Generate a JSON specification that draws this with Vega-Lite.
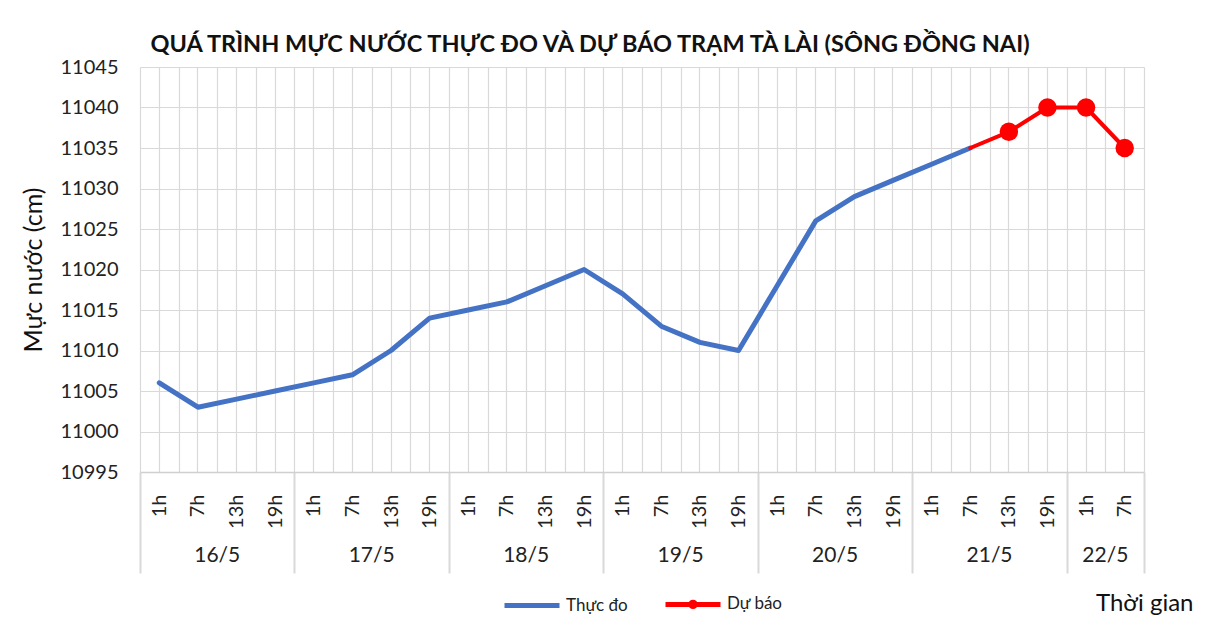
{
  "$schema": "https://vega.github.io/schema/vega-lite/v6.json",
  "width": 1004,
  "height": 405,
  "autosize": {"type": "none"},
  "padding": {"left": 140, "top": 67, "right": 71, "bottom": 154},
  "background": "white",
  "config": {"view": {"stroke": null}, "font": "Lato"},
  "title": {
    "text": "QUÁ TRÌNH MỰC NƯỚC THỰC ĐO VÀ DỰ BÁO TRẠM TÀ LÀI (SÔNG ĐỒNG NAI)",
    "fontSize": 23.5,
    "fontWeight": "bold",
    "font": "Lato",
    "color": "#111111",
    "anchor": "middle",
    "dx": -52,
    "offset": 1
  },
  "data": {
    "values": [
      {"time": "16/5 1h", "series": "Thực đo", "value": 11006},
      {"time": "16/5 7h", "series": "Thực đo", "value": 11003},
      {"time": "16/5 13h", "series": "Thực đo", "value": 11004},
      {"time": "16/5 19h", "series": "Thực đo", "value": 11005},
      {"time": "17/5 1h", "series": "Thực đo", "value": 11006},
      {"time": "17/5 7h", "series": "Thực đo", "value": 11007},
      {"time": "17/5 13h", "series": "Thực đo", "value": 11010},
      {"time": "17/5 19h", "series": "Thực đo", "value": 11014},
      {"time": "18/5 1h", "series": "Thực đo", "value": 11015},
      {"time": "18/5 7h", "series": "Thực đo", "value": 11016},
      {"time": "18/5 13h", "series": "Thực đo", "value": 11018},
      {"time": "18/5 19h", "series": "Thực đo", "value": 11020},
      {"time": "19/5 1h", "series": "Thực đo", "value": 11017},
      {"time": "19/5 7h", "series": "Thực đo", "value": 11013},
      {"time": "19/5 13h", "series": "Thực đo", "value": 11011},
      {"time": "19/5 19h", "series": "Thực đo", "value": 11010},
      {"time": "20/5 1h", "series": "Thực đo", "value": 11018},
      {"time": "20/5 7h", "series": "Thực đo", "value": 11026},
      {"time": "20/5 13h", "series": "Thực đo", "value": 11029},
      {"time": "20/5 19h", "series": "Thực đo", "value": 11031},
      {"time": "21/5 1h", "series": "Thực đo", "value": 11033},
      {"time": "21/5 7h", "series": "Thực đo", "value": 11035},
      {"time": "21/5 7h", "series": "Dự báo", "value": 11035},
      {"time": "21/5 13h", "series": "Dự báo", "value": 11037},
      {"time": "21/5 19h", "series": "Dự báo", "value": 11040},
      {"time": "22/5 1h", "series": "Dự báo", "value": 11040},
      {"time": "22/5 7h", "series": "Dự báo", "value": 11035}
    ]
  },
  "encoding": {
    "y": {
      "field": "value",
      "type": "quantitative",
      "scale": {"domain": [10995, 11045], "zero": false, "nice": false},
      "axis": {
        "title": "Mực nước (cm)",
        "values": [10995, 11000, 11005, 11010, 11015, 11020, 11025, 11030, 11035, 11040, 11045],
        "format": "d",
        "grid": true,
        "gridColor": "#d9d9d9",
        "gridWidth": 1.2,
        "domain": false,
        "ticks": false,
        "labelFont": "Lato",
        "labelFontSize": 20,
        "labelPadding": 22,
        "labelColor": "#222222",
        "titleFont": "Lato",
        "titleFontSize": 25,
        "titleFontWeight": "normal",
        "titleColor": "#111111",
        "titlePadding": 14
      }
    }
  },
  "layer": [
    {
      "transform": [{"filter": "datum.series === 'Thực đo'"}],
      "mark": {"type": "line", "strokeWidth": 5, "strokeCap": "round", "strokeJoin": "round"},
      "encoding": {
        "x": {
          "field": "time",
          "type": "nominal",
          "scale": {
            "domain": ["16/5 1h", "16/5 7h", "16/5 13h", "16/5 19h", "17/5 1h", "17/5 7h", "17/5 13h", "17/5 19h", "18/5 1h", "18/5 7h", "18/5 13h", "18/5 19h", "19/5 1h", "19/5 7h", "19/5 13h", "19/5 19h", "20/5 1h", "20/5 7h", "20/5 13h", "20/5 19h", "21/5 1h", "21/5 7h", "21/5 13h", "21/5 19h", "22/5 1h", "22/5 7h"],
            "paddingInner": 0,
            "paddingOuter": 0
          },
          "axis": {
            "orient": "bottom",
            "title": null,
            "tickBand": "extent",
            "grid": true,
            "gridColor": "#d9d9d9",
            "gridWidth": 1.2,
            "domain": true,
            "domainColor": "#d0d0d0",
            "domainWidth": 1.5,
            "ticks": true,
            "tickSize": 101,
            "tickColor": "#d9d9d9",
            "tickWidth": 2,
            "tickOpacity": {"condition": {"test": "datum.index === -1 || (datum.value && (indexof(datum.value, '19h') >= 0 || datum.value === '22/5 7h'))", "value": 1}, "value": 0},
            "labelExpr": "datum.value ? split(datum.value, ' ')[1] : ''",
            "labelAngle": -90,
            "labelAlign": "right",
            "labelBaseline": "middle",
            "labelFont": "Lato",
            "labelFontSize": 20,
            "labelColor": "#222222",
            "labelPadding": -79,
            "labelOverlap": false
          }
        },
        "color": {
          "field": "series",
          "type": "nominal",
          "scale": {"domain": ["Thực đo", "Dự báo"], "range": ["#4472C4", "#FF0000"]},
          "legend": {
            "orient": "none",
            "legendX": 362,
            "legendY": 507,
            "direction": "horizontal",
            "title": null,
            "symbolType": "stroke",
            "symbolSize": 3025,
            "symbolStrokeWidth": 5,
            "labelFont": "Lato",
            "labelFontSize": 17,
            "labelColor": "#222222",
            "labelOffset": 4,
            "columnPadding": 27,
            "encode": {
              "symbols": {
                "update": {
                  "shape": {"signal": "datum.value === 'Dự báo' ? 'M-1,0H1M-0.08,0A0.08,0.08 0 1 1 0.08,0A0.08,0.08 0 1 1 -0.08,0Z' : 'stroke'"},
                  "fill": {"signal": "datum.value === 'Dự báo' ? '#FF0000' : 'transparent'"}
                }
              }
            }
          }
        }
      }
    },
    {
      "transform": [{"filter": "datum.series === 'Dự báo'"}],
      "mark": {"type": "line", "strokeWidth": 4, "strokeCap": "round", "strokeJoin": "round"},
      "encoding": {
        "x": {
          "field": "time",
          "type": "nominal",
          "scale": {
            "domain": ["16/5 1h", "16/5 7h", "16/5 13h", "16/5 19h", "17/5 1h", "17/5 7h", "17/5 13h", "17/5 19h", "18/5 1h", "18/5 7h", "18/5 13h", "18/5 19h", "19/5 1h", "19/5 7h", "19/5 13h", "19/5 19h", "20/5 1h", "20/5 7h", "20/5 13h", "20/5 19h", "21/5 1h", "21/5 7h", "21/5 13h", "21/5 19h", "22/5 1h", "22/5 7h"],
            "paddingInner": 0,
            "paddingOuter": 0
          },
          "axis": {
            "orient": "bottom",
            "title": "Thời gian",
            "grid": true,
            "gridColor": "#d9d9d9",
            "gridWidth": 1.2,
            "bandPosition": 0.5,
            "domain": false,
            "ticks": false,
            "labelExpr": "(datum.value === '22/5 1h' || (indexof(datum.value, ' 7h') >= 0 && datum.value !== '22/5 7h')) ? split(datum.value, ' ')[0] : ''",
            "labelAngle": 0,
            "labelAlign": "center",
            "labelBaseline": "top",
            "labelOffset": 19.3,
            "labelPadding": 72,
            "labelFont": "Lato",
            "labelFontSize": 21,
            "labelColor": "#222222",
            "labelOverlap": false,
            "titleFont": "Lato",
            "titleFontSize": 24,
            "titleFontWeight": "normal",
            "titleColor": "#111111",
            "titleX": 1053,
            "titleY": 131,
            "titleAlign": "right",
            "titleBaseline": "middle",
            "titleAngle": 0
          }
        },
        "color": {
          "field": "series",
          "type": "nominal",
          "scale": {"domain": ["Thực đo", "Dự báo"], "range": ["#4472C4", "#FF0000"]}
        }
      }
    },
    {
      "transform": [{"filter": "datum.series === 'Dự báo' && datum.time !== '21/5 7h'"}],
      "mark": {"type": "point", "filled": true, "size": 340, "opacity": 1},
      "encoding": {
        "x": {
          "field": "time",
          "type": "nominal",
          "scale": {
            "domain": ["16/5 1h", "16/5 7h", "16/5 13h", "16/5 19h", "17/5 1h", "17/5 7h", "17/5 13h", "17/5 19h", "18/5 1h", "18/5 7h", "18/5 13h", "18/5 19h", "19/5 1h", "19/5 7h", "19/5 13h", "19/5 19h", "20/5 1h", "20/5 7h", "20/5 13h", "20/5 19h", "21/5 1h", "21/5 7h", "21/5 13h", "21/5 19h", "22/5 1h", "22/5 7h"],
            "paddingInner": 0,
            "paddingOuter": 0
          },
          "axis": null
        },
        "color": {
          "field": "series",
          "type": "nominal",
          "scale": {"domain": ["Thực đo", "Dự báo"], "range": ["#4472C4", "#FF0000"]}
        }
      }
    }
  ],
  "resolve": {"axis": {"x": "independent"}}
}
